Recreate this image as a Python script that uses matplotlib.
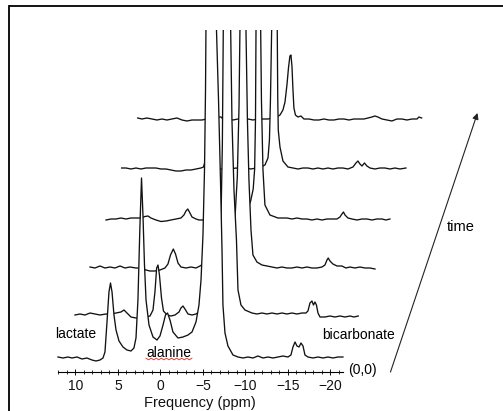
import numpy as np
import matplotlib
matplotlib.use("Agg")
import matplotlib.pyplot as plt
from matplotlib.lines import Line2D
from matplotlib.patches import Rectangle
from matplotlib.ticker import FixedLocator

plt.rcParams['font.family'] = ['Liberation Sans', 'DejaVu Sans']

# ---------------- data: six spectra (local ppm, intensity), front (t=0) to back ----------------
ppm_0 = [12.05, 11.46, 10.87, 10.40, 9.81, 9.22, 8.64, 8.05, 7.58, 7.11, 6.75, 6.52, 6.28, 6.05, 5.87, 5.69,
         5.46, 5.22, 4.87, 4.40, 3.93, 3.46, 3.11, 2.87, 2.64, 2.42, 2.22, 2.05, 1.87, 1.69, 1.34, 0.87, 0.40,
         0.05, -0.31, -0.60, -0.84, -1.13, -1.48, -2.07, -2.66, -3.25, -3.72, -4.19, -4.54, -4.78, -5.01,
         -5.19, -5.31, -5.36, -5.95, -6.60, -6.84, -7.07, -7.25, -7.36, -7.60, -7.95, -8.54, -9.13, -9.72,
         -10.31, -10.89, -11.48, -12.07, -12.66, -13.25, -13.84, -14.42, -15.01, -15.36, -15.60, -15.84,
         -16.07, -16.31, -16.54, -16.78, -17.01, -17.36, -17.95, -18.54, -19.13, -19.72, -20.31, -20.89, -21.48]
int_0 = [1, 0, 1, 0, 1, -1, 0, -2, -3, -2, 0, 6, 36, 66, 75, 66, 43, 28, 17, 11, 8, 7, 10, 20, 58, 128, 180,
         143, 93, 58, 33, 21, 18, 22, 33, 43, 45, 38, 26, 20, 21, 23, 26, 36, 53, 78, 123, 188, 268, 328, 1500,
         328, 258, 178, 108, 53, 25, 12, 3, 1, 0, 1, 0, 2, 0, 1, 0, 1, 2, 1, 3, 11, 16, 12, 11, 15, 12, 3, 1,
         0, 1, 0, 1, 0, 1, 1]

ppm_1 = [11.92, 11.33, 10.74, 10.15, 9.56, 8.98, 8.27, 7.57, 7.09, 6.51, 6.15, 5.80, 5.33, 4.74, 4.15, 3.57,
         3.09, 2.74, 2.51, 2.31, 2.15, 1.98, 1.74, 1.51, 1.09, 0.62, 0.15, -0.32, -0.55, -0.79, -1.02, -1.38,
         -1.85, -2.32, -2.67, -3.02,
         -4.66, -5.01, -5.25, -5.42, -5.53, -5.96, -6.40, -6.55, -6.79, -7.08, -7.26, -7.61, -8.08, -8.90,
         -9.49, -10.08, -10.67, -11.26, -11.85, -12.43, -13.02, -13.61, -14.20, -14.79, -15.26, -15.49,
         -15.73, -15.96, -16.14, -16.32, -16.49, -16.67, -16.91, -17.49, -18.08, -18.67, -19.26, -19.85,
         -20.44, -20.91, -21.41]
int_1 = [0, 1, 0, 2, 1, 0, 1, 1, 2, 3, 5, 2, -2, -3, -3, -2, -1, 5, 23, 47, 50, 40, 17, 4, 0, -1, 0, 3, 7, 9,
         6, 1, 0, 1, 3, 9,
         25, 45, 90, 170, 285, 1200, 285, 195, 125, 75, 25, 10, 5, 2,
         1, 2, 1, 2, 1, 2, 1, 2, 1, 2, 2, 4, 12, 14, 10, 13, 10, 2, -2, -2, -1, -2, -1, -2, -1, -2, -1]

ppm_2 = [12.02, 11.44, 10.85, 10.26, 9.67, 9.08, 8.49, 7.91, 7.32, 6.61, 5.91, 5.44, 4.97, 4.38, 3.79, 3.20,
         2.85, 2.55, 2.22, 1.96, 1.67, 1.32, 0.73, 0.14, -0.45, -0.92, -1.27,
         -2.31, -3.48, -4.19, -4.66, -5.01, -5.31, -5.51, -5.62, -5.98, -6.33, -6.50, -6.68, -6.92, -7.15,
         -7.62, -8.21, -8.80,
         -9.39, -9.98, -10.56, -11.15, -11.74, -12.33, -12.92, -13.51, -14.09, -14.68, -15.27, -15.62,
         -15.86, -16.01, -16.21, -16.56, -17.04, -17.62, -18.09, -18.56, -19.15, -19.74, -20.33, -20.92,
         -21.51]
int_2 = [0, -1, 1, -1, 0, -1, 1, -1, 0, -1, -1, -3, -4, -4, -3, -1, 3, 12, 18, 13, 4, 0, -1, 0, -1, 1, 3,
         3, 8, 15, 25, 45, 90, 160, 237, 1000, 237, 147, 87, 37, 12, 5, 2, 1,
         0, -1, 0, -1, -1, 0, -1, 0, -1, -1, 0, 2, 7, 9, 6, 3, 1, 1, -1, 0, -1, 0, -1, -1, -2]

ppm_3 = [12.01, 11.42, 10.84, 10.25, 9.66, 9.07, 8.48, 7.89, 7.42, 7.07, 6.72, 6.13, 5.54, 4.95, 4.36, 3.78,
         3.19, 2.84, 2.60, 2.39, 2.19, 1.89, 1.42, 1.07, 0.72,
         -0.54, -1.72, -2.89, -4.07, -4.66, -5.01, -5.31, -5.48, -5.58, -5.64, -5.91, -6.19, -6.28, -6.46,
         -6.69, -7.28, -8.22, -9.28,
         -9.87, -10.46, -11.05, -11.64, -12.22, -12.81, -13.40, -13.99, -14.58, -15.16, -15.52, -15.75,
         -15.93, -16.11, -16.46, -16.93, -17.52, -18.11, -18.69, -19.28, -19.87, -20.46, -20.93, -21.40]
int_3 = [-1, 0, 0, 1, 0, 1, 1, 1, 2.5, 3, 1, -1, -2.5, -2, -1, 0, 1, 4, 8, 10, 7, 2, 0, -1, -1,
         0, 1, 3, 5, 10, 18, 30, 50, 100, 189, 800, 189, 119, 49, 14, 4, 1, 1,
         0, 1, 0, 0, -1, 0, -1, 0, 0, 0, 2, 5, 7, 4, 1, 0, -1, 0, 0, -1, 0, 0, -1, 0]

ppm_4 = [12.04, 11.53, 10.94, 10.35, 9.76, 9.18, 8.59, 8.00, 7.41, 6.82, 6.24, 5.65, 5.06, 4.47, 3.88, 3.29,
         2.71, 2.41, 2.24, 2.06, 1.88, 1.53, 0.35, -0.23, -0.82, -1.41, -2.00, -2.59, -3.18, -3.76, -4.35,
         -4.82,
         -5.18, -5.35, -5.47, -5.61, -5.94, -6.27, -6.33, -6.39, -6.59, -6.94, -7.53, -8.12,
         -8.71, -9.29, -9.88, -10.47, -11.06, -11.65, -12.24, -12.82, -13.41, -14.00, -14.59, -15.18,
         -15.53, -15.76, -16.00, -16.24, -16.53, -16.82, -17.18, -17.76, -18.35, -18.94, -19.53, -20.12,
         -20.71, -21.41]
int_4 = [0, 0, -1, 0, -1, 0, 0, 0, -1, -1, -2, -3, -3, -2, -2, -1, 0, 1, 6, 10, 4, 0, -1, -2, -1, 0, -1, 0,
         -1, 0, 1, 3,
         10, 28, 68, 138, 600, 138, 68, 38, 21, 7, 1, 0,
         -1, 0, 0, -1, 0, -1, 0, -1, 0, 0, -1, 1, 5, 7, 4, 2, 5, 2, 0, -1, 0, 0, -1, 0, -1, 0]

ppm_5 = [12.02, 11.52, 10.93, 10.34, 9.75, 9.16, 8.58, 7.99, 7.40, 6.81, 6.22, 5.64, 5.05, 4.46, 3.87, 3.28,
         2.69, 2.46, 2.22, 1.99, 1.40, 0.81, 0.22, -0.36, -0.95, -1.54, -2.13, -2.72, -3.31, -3.89, -4.36,
         -4.72, -5.07, -5.31, -5.54, -5.72, -5.89, -6.01, -6.13, -6.25, -6.36, -6.54, -6.83, -7.19, -7.54,
         -8.13, -8.72, -9.31, -9.89, -10.48, -11.07, -11.66, -12.25, -12.84, -13.42, -14.01, -14.60, -15.07,
         -15.54, -15.89, -16.24, -16.72, -17.31, -17.89, -18.48, -19.07, -19.66, -20.25, -20.84, -21.07,
         -21.39]
int_5 = [1, 0, 1, 0, -1, 0, -1, 0, 1, -1, -2, -1, -1, -1, 0, 0, 0, 2, 2, 0, 0, -1, 0, -1, 0, -1, 0, 0, 0, 1,
         2, 4, 9, 17, 34, 51, 63, 64, 53, 29, 11, 4, 2, 3, 0, 0, -1, -1, 0, -1, -1, 0, 0, -1, 0, 0, 0, 1, 2,
         3, 2, 0, -1, -2, 0, 0, -1, 0, 0, 2, 1]

spectra = [(ppm_0, int_0), (ppm_1, int_1), (ppm_2, int_2),
           (ppm_3, int_3), (ppm_4, int_4), (ppm_5, int_5)]

major_ticks = [10, 5, 0, -5, -10, -15, -20]
minor_ticks = [v for v in range(-21, 13) if v % 5 != 0]
tick_labels = ['10', '5', '0', '\u22125', '\u221210', '\u221215', '\u221220']

# waterfall layout
shift_ppm = -1.87                      # horizontal step per trace
y_offsets = [0, 43, 91, 139, 190, 239]  # vertical step per trace

# ---------------- figure ----------------
fig = plt.figure(figsize=(5.03, 4.11), dpi=100)
fig.patch.set_edgecolor('white')
fig.patch.set_linewidth(0)
ax = fig.add_axes([0.0, 0.0, 1.0, 381 / 411])
ax.set_xlim(18.87, -40.31)
ax.set_ylim(-53, 328)
ax.patch.set_visible(False)

for i in range(len(spectra) - 1, -1, -1):
    p, v = spectra[i]
    x = np.asarray(p, float) + i * shift_ppm
    y = np.asarray(v, float) + y_offsets[i]
    z = 10 - i
    ax.fill_between(x, y, -10, color='white', lw=0, zorder=z)
    ax.plot(x, y, color='#111111', lw=0.95, zorder=z + 0.5, solid_joinstyle='round')

for s in ['top', 'right', 'left']:
    ax.spines[s].set_visible(False)
ax.spines['bottom'].set_position(('data', -14))
ax.spines['bottom'].set_bounds(12.05, -21.5)
ax.spines['bottom'].set_linewidth(0.8)
ax.spines['bottom'].set_zorder(20)
ax.set_xticks(major_ticks)
ax.set_xticklabels(tick_labels)
ax.xaxis.set_minor_locator(FixedLocator(minor_ticks))
ax.tick_params(axis='x', which='major', direction='inout', length=5, width=0.7,
               labelsize=10, pad=2.5, colors='#111111')
ax.tick_params(axis='x', which='minor', direction='inout', length=3, width=0.6, colors='#111111')
ax.tick_params(axis='y', which='both', left=False, right=False, labelleft=False)
ax.set_yticks([])

ax.text(-4.69, -45, 'Frequency (ppm)', ha='center', va='center', fontsize=10.5, color='#111111')

ax.text(9.93, 24, 'lactate', ha='center', va='center', fontsize=10, zorder=30)
ax.text(-1.01, 5, 'alanine', ha='center', va='center', fontsize=10, zorder=30)
ax.text(-23.34, 23, 'bicarbonate', ha='center', va='center', fontsize=10, zorder=30)
ax.text(-35.31, 131, 'time', ha='center', va='center', fontsize=10.5, zorder=30)
ax.text(-22.11, -12, '(0,0)', ha='left', va='center', fontsize=10, zorder=30)

# spell-check style squiggle under "alanine"
sq_x = np.linspace(-1.01 - 2.7, -1.01 + 2.7, 19)
sq_y = -1.0 + 0.8 * np.where(np.arange(19) % 2 == 0, 1, -1)
ax.plot(sq_x, sq_y, color='#e0403a', lw=0.7, zorder=31)

# time arrow
ax.annotate('', xy=(-37.31, 245), xytext=(-27.07, -14),
            arrowprops=dict(arrowstyle='-|>', lw=0.8, color='#222222',
                            mutation_scale=9, shrinkA=0, shrinkB=0),
            annotation_clip=False, zorder=30)

# outer frame (only left and top edges are inside the picture)
fx = 9 / 503
fy = 1 - 6 / 411
fig.add_artist(Rectangle((1 - 4 / 503, 0), 4 / 503, fy - 2 / 411, transform=fig.transFigure,
                         facecolor='white', edgecolor='none', zorder=50))
fig.add_artist(Line2D([fx, fx], [0, fy], transform=fig.transFigure, color='black', lw=1.3,
                      solid_capstyle='projecting', zorder=60))
fig.add_artist(Line2D([fx, 1.01], [fy, fy], transform=fig.transFigure, color='black', lw=1.3,
                      solid_capstyle='butt', zorder=60))

fig.savefig('out.png', dpi=100, facecolor='white')
